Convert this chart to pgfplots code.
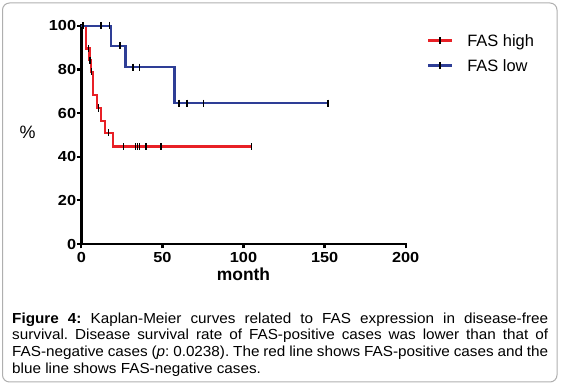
\documentclass[border=0pt]{standalone}
\usepackage{fontspec}
\setmainfont{Liberation Sans}
\newfontfamily\tickfont[FakeStretch=1.12]{Liberation Sans}
\newfontfamily\capfont[FakeStretch=1.05]{Liberation Sans}
\usepackage{pgfplots}
\pgfplotsset{compat=1.18}
\definecolor{kmred}{RGB}{232,32,38}
\definecolor{kmblue}{RGB}{46,62,150}
\definecolor{framegray}{RGB}{175,175,175}
\begin{document}
\begin{tikzpicture}
\path[use as bounding box] (0bp,0bp) rectangle (561bp,385bp);
\draw[framegray, line width=1bp, rounded corners=7bp] (2.5bp,3bp) rectangle (557bp,382bp);
\begin{axis}[
  at={(81.3bp,141bp)}, anchor=south west,
  scale only axis, width=324.4bp, height=218.3bp,
  xmin=0, xmax=200, ymin=0, ymax=100,
  axis lines=left, axis line style={-, line width=2.8bp, black, line cap=rect},
  clip=false,
  xtick={0,50,100,150,200}, ytick={0,20,40,60,80,100},
  tick align=outside, major tick length=4.5bp,
  tick style={line width=2.3bp, black},
  /pgf/number format/assume math mode=true,
  ticklabel style={font=\tickfont\bfseries\fontsize{14.6}{15}\selectfont, inner sep=0pt},
  xticklabel style={anchor=north, yshift=-4bp},
  yticklabel style={anchor=east, xshift=-0.5bp},
  xlabel={month},
  xlabel style={font=\bfseries\fontsize{17.5}{18}\selectfont, at={(axis description cs:0.5,-0.168)}, anchor=base},
  ylabel={\%},
  ylabel style={rotate=-90, font=\fontsize{18}{18}\selectfont, at={(axis description cs:-0.1658,0.5108)}, anchor=center},
  legend cell align=left,
  legend style={at={(axis cs:213.1,95.9)}, anchor=north west, draw=none, fill=none,
    inner sep=0pt, outer sep=0pt, row sep=13.1bp, column sep=14bp,
    font=\fontsize{16.5}{16.5}\selectfont,
    nodes={inner sep=0pt, text height=11.9bp, text depth=0bp}},
  legend image code/.code={
    \draw[#1] (0bp,0bp) -- (24bp,0bp);
    \draw[black, line width=1.4bp] (12bp,-3.5bp) -- (12bp,3.5bp);
  },
]
\addplot[kmred, line width=2.3bp] coordinates {
  (0,100)(2.9,100)(2.9,89.5)(5.0,89.5)(5.0,84.2)(5.8,84.2)(5.8,78.9)(7.0,78.9)
  (7.0,68.4)(9.8,68.4)(9.8,62.3)(12.2,62.3)(12.2,56.5)(14.8,56.5)(14.8,51)
  (19.6,51)(19.6,44.6)(105,44.6)};
\addlegendentry{FAS high}
\addplot[kmblue, line width=2.3bp] coordinates {
  (0,100)(18.1,100)(18.1,90.8)(27.2,90.8)(27.2,81)(57.4,81)(57.4,64.5)(152,64.5)};
\addlegendentry{FAS low}
% censor marks, FAS high
\addplot[only marks, mark=|, mark size=3.6bp, mark options={black, line width=1.5bp}, forget plot] coordinates {
  (1,100)(4.3,89.5)(5.4,84.2)(6.4,78.9)(10.5,62.3)(16.9,51)
  (26,44.6)(33.3,44.6)(34.5,44.6)(35.8,44.6)(40,44.6)(49,44.6)(105,44.6)};
% censor marks, FAS low
\addplot[only marks, mark=|, mark size=3.6bp, mark options={black, line width=1.5bp}, forget plot] coordinates {
  (1,100)(12,100)(17.3,100)(24,90.8)(31.9,81)(35.8,81)
  (60.2,64.5)(65.2,64.5)(75.2,64.5)(152,64.5)};
\end{axis}
\node[anchor=north west, inner sep=0pt, text width=536bp, align=justify,
      font=\capfont\fontsize{14.6}{16.8}\selectfont] at (12bp,72.5bp)
  {\frenchspacing\tolerance=10000\hbadness=10000 {\bfseries Figure 4:} Kaplan-Meier curves related to FAS expression in disease-free\linebreak
   survival. Disease survival rate of FAS-positive cases was lower than that of\linebreak
   FAS-negative cases (\textit{p}: 0.0238). The red line shows FAS-positive cases and the\linebreak
   blue line shows FAS-negative cases.};
\end{tikzpicture}
\end{document}
